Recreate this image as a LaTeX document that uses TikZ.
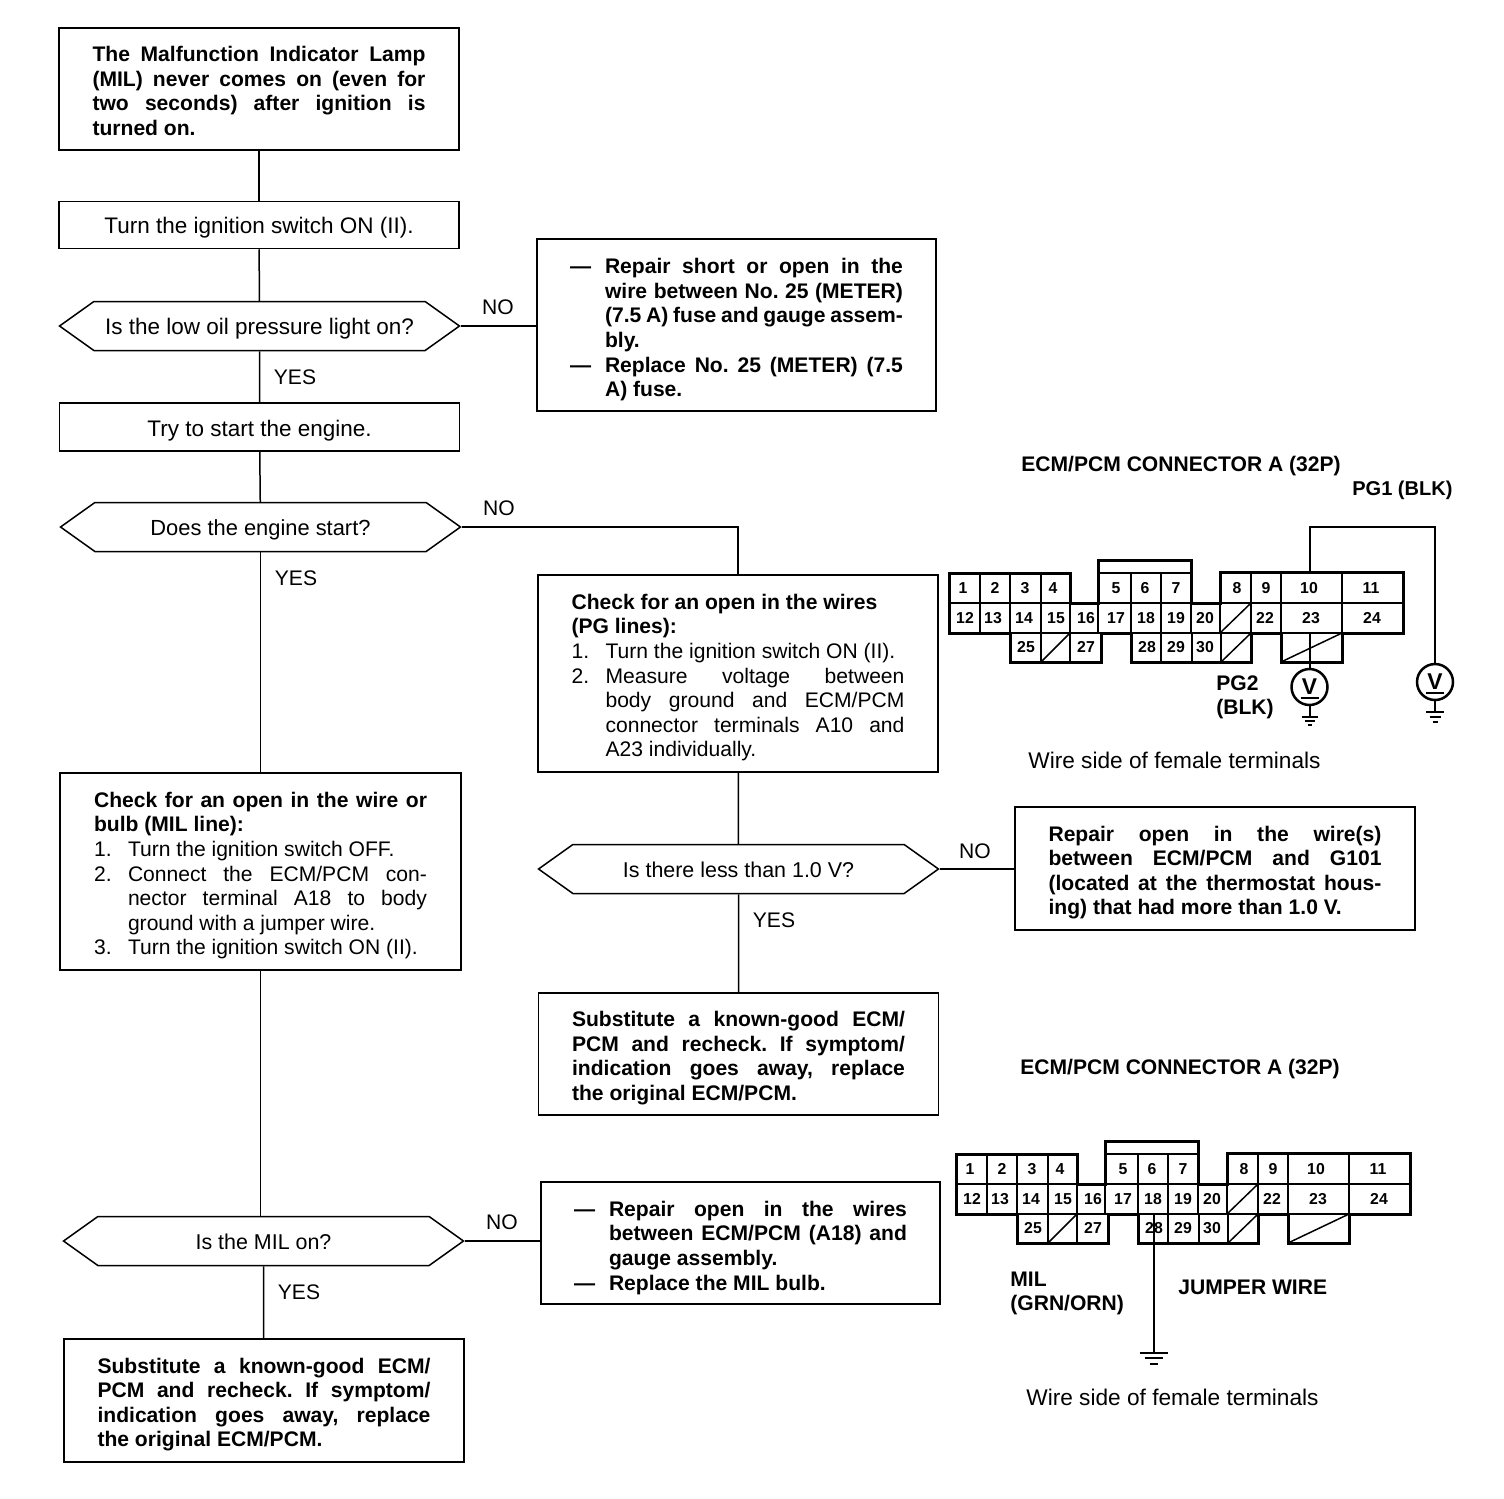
\documentclass[tikz,border=0pt]{standalone}
\usepackage{fontspec}
\setmainfont{Liberation Sans}
\usetikzlibrary{shapes, arrows, positioning, calc, shapes.symbols}
\tikzset{
  flowbox/.style={draw, line width=0.03cm, inner sep=0pt, minimum width=8cm, font=\fontsize{12}{14}\selectfont},
  linebox/.style={flowbox, font=\fontsize{12.8}{14}\selectfont, text height=0.42cm, text depth=0.08cm},
  notebox/.style={flowbox, align=justify, text width=6.66cm},
  boldbox/.style={notebox, font=\fontsize{12}{14}\selectfont\bfseries},
  textdrop/.style={execute at begin node={\rule{0pt}{#1}}},
  querybox/.style={linebox, shape=signal, signal to=east and west, signal pointer angle=71, minimum height=0.98cm},
  answer/.style={font=\fontsize{12}{14}\selectfont, inner sep=0pt},
  sidenote/.style={font=\fontsize{12.9}{14}\selectfont, inner sep=0pt, anchor=west},
  label/.style={font=\fontsize{12}{14}\selectfont\bfseries, inner sep=0pt, anchor=west},
  pinno/.style={font=\fontsize{9}{10}\selectfont\bfseries, inner sep=0pt},
  meter/.style={draw, circle, line width=0.05cm, minimum size=0.72cm, inner sep=0pt, font=\fontsize{13}{14}\selectfont\bfseries},
  wire/.style={line width=0.04cm},
  flow/.style={line width=0.03cm}
}
\newcommand{\dashitem}{\par\hangindent=0.7cm\hangafter=1\noindent\makebox[0.7cm][l]{---}}
\newcommand{\numitem}[1]{\par\hangindent=0.68cm\hangafter=1\noindent\makebox[0.68cm][l]{#1.}}
% connector body: prefix, dx, dy
\newcommand{\ecmconnector}[3]{
  \begin{scope}[shift={(#2,#3)}]
    \draw[line width=0.06cm, line join=miter] (949,573) -- (1070,573) -- (1070,603) -- (1098,603) -- (1098,560) -- (1191,560) -- (1191,603) -- (1220,603) -- (1220,572) -- (1403,572) -- (1403,633) -- (1342,633) -- (1342,662) -- (1281,662) -- (1281,633) -- (1251,633) -- (1251,662) -- (1131,662) -- (1131,633) -- (1101,633) -- (1101,662) -- (1010,662) -- (1010,633) -- (949,633) -- cycle;
    \draw[line width=0.05cm] (1098,573) -- (1191,573);
    \draw[line width=0.045cm] (949,603) -- (1403,603);
    \draw[line width=0.045cm] (1010,633) -- (1403,633);
    % cell walls
    \foreach \x in {980,1010,1041,1070}
      \draw[line width=0.035cm] (\x,573) -- (\x,633);
    \foreach \x in {1131,1161}
      \draw[line width=0.035cm] (\x,573) -- (\x,662);
    \foreach \x in {1251,1281,1342}
      \draw[line width=0.035cm] (\x,572) -- (\x,633);
    \foreach \x in {1041,1070,1192,1221}
      \draw[line width=0.03cm] (\x,633) -- (\x,662);
    \draw[line width=0.035cm] (1098,603) -- (1098,633);
    \draw[line width=0.035cm] (1191,603) -- (1191,633);
    \draw[line width=0.035cm] (1220,603) -- (1220,633);
    % blanked cavities
    \draw[line width=0.03cm] (1220,633) -- (1251,603);
    \draw[line width=0.03cm] (1041,662) -- (1070,633);
    \draw[line width=0.03cm] (1221,662) -- (1251,633);
    \draw[line width=0.03cm] (1281,662) -- (1342,633);
    % pin numbers
    \foreach \n/\x/\y in {1/963/588, 2/995/588, 3/1025/588, 4/1053/588, 5/1116/588, 6/1145/588, 7/1176/588, 8/1237/588, 9/1266/588, 10/1309/588, 11/1371/588,
      12/965/618, 13/993/618, 14/1024/618, 15/1056/618, 16/1086/618, 17/1116/618, 18/1146/618, 19/1176/618, 20/1205/618, 22/1265/618, 23/1311/618, 24/1372/618,
      25/1026/647, 27/1086/647, 28/1147/647, 29/1176/647, 30/1205/647}
      \node[pinno] (#1\n) at (\x,\y) {\n};
  \end{scope}
}

\begin{document}
\frenchspacing
\begin{tikzpicture}[x=0.02cm, y=-0.02cm]
  \useasboundingbox (0,0) rectangle (1504,1498);

  % --- Left column ---
  \node[boldbox, textdrop=0.39cm, minimum height=2.44cm] (lamp) at (259,89) {The Malfunction Indicator Lamp\linebreak (MIL) never comes on (even for\linebreak two seconds) after ignition is\linebreak turned on.};
  \node[linebox, minimum height=0.94cm] (ignon) at (259,225) {Turn the ignition switch ON (II).};
  \node[querybox] (oilq) at (259.5,326) {Is the low oil pressure light on?};
  \node[linebox, text height=0.46cm, minimum height=0.96cm] (crank) at (259.5,427) {Try to start the engine.};
  \node[querybox, font=\fontsize{12.45}{14}\selectfont] (startq) at (260.5,527) {Does the engine start?};
  \node[notebox, textdrop=0.47cm, minimum width=8.02cm, minimum height=3.94cm] (milcheck) at (260.5,871.5) {\textbf{Check for an open in the wire or\linebreak bulb (MIL line):}
    \numitem{1}Turn the ignition switch OFF.
    \numitem{2}Connect the ECM/PCM con-\linebreak nector terminal A18 to body\linebreak ground with a jumper wire.
    \numitem{3}Turn the ignition switch ON (II).\par};
  \node[querybox, font=\fontsize{12.2}{14}\selectfont] (milq) at (263.5,1241) {Is the MIL on?};
  \node[boldbox, textdrop=0.47cm, minimum height=2.46cm] (subleft) at (264,1400.5) {Substitute a known-good ECM/\linebreak PCM and recheck. If symptom/\linebreak indication goes away, replace\linebreak the original ECM/PCM.};

  % --- Middle column ---
  \node[boldbox, minimum width=7.98cm, minimum height=3.44cm] (fuse) at (736.5,325) {\dashitem Repair short or open in the\linebreak wire between No. 25 (METER)\linebreak (7.5 A) fuse and gauge assem-\linebreak bly.
    \dashitem Replace No. 25 (METER) (7.5\linebreak A) fuse.\par};
  \node[notebox, textdrop=0.47cm, minimum width=8cm, minimum height=3.94cm] (pgcheck) at (738,673.5) {\textbf{Check for an open in the wires\newline (PG lines):}
    \numitem{1}Turn the ignition switch ON (II).
    \numitem{2}Measure voltage between\linebreak body ground and ECM/PCM\linebreak connector terminals A10 and\linebreak A23 individually.\par};
  \node[querybox, font=\fontsize{12.2}{14}\selectfont] (voltq) at (738.5,869) {Is there less than 1.0 V?};
  \node[boldbox, textdrop=0.47cm, minimum height=2.44cm] (subright) at (738.5,1054) {Substitute a known-good ECM/\linebreak PCM and recheck. If symptom/\linebreak indication goes away, replace\linebreak the original ECM/PCM.};
  \node[boldbox, minimum width=7.98cm, minimum height=2.44cm] (bulb) at (740.5,1243) {\dashitem Repair open in the wires\linebreak between ECM/PCM (A18) and\linebreak gauge assembly.
    \dashitem Replace the MIL bulb.\par};
  \node[boldbox, textdrop=0.47cm, minimum height=2.46cm] (g101) at (1215,868.5) {Repair open in the wire(s)\linebreak between ECM/PCM and G101\linebreak (located at the thermostat hous-\linebreak ing) that had more than 1.0 V.};

  % --- Flow lines ---
  \draw[flow] (lamp) -- (ignon);
  \draw[flow] (ignon) -- (oilq);
  \draw[flow] (oilq) -- (crank);
  \draw[flow] (crank) -- (startq);
  \draw[flow] (startq.south) -- (startq.south |- milcheck.north);
  \draw[flow] (milcheck.south) -- (milcheck.south |- milq.north);
  \draw[flow] (milq) -- (milq |- subleft.north);
  \draw[flow] (oilq.east) -- (oilq.east -| fuse.west);
  \draw[flow] (startq.east) -| (pgcheck.north);
  \draw[flow] (pgcheck) -- (voltq);
  \draw[flow] (voltq) -- (subright);
  \draw[flow] (voltq.east) -- (voltq.east -| g101.west);
  \draw[flow] (milq.east) -- (milq.east -| bulb.west);

  % --- Answers ---
  \node[answer] (yesa) at (295,377) {YES};
  \node[answer] (yesb) at (296,578) {YES};
  \node[answer] (yesc) at (774,920) {YES};
  \node[answer] (yesd) at (299,1292) {YES};
  \node[answer] (noa) at (498,307) {NO};
  \node[answer] (nob) at (499,508) {NO};
  \node[answer] (noc) at (975,851) {NO};
  \node[answer] (nod) at (502,1222) {NO};

  % --- Upper connector ---
  \node[label] (titlea) at (1021,466) {ECM/PCM CONNECTOR A (32P)};
  \node[label, font=\fontsize{11.4}{14}\selectfont\bfseries] (pgone) at (1352,490.5) {PG1 (BLK)};
  \ecmconnector{ua}{0}{0}
  \node[label, align=left] (pgtwo) at (1216,697.5) {PG2\\(BLK)};
  \node[sidenote] (sidea) at (1028,760) {Wire side of female terminals};
  \node[meter] (vleft) at (1309.5,687) {V};
  \node[meter] (vright) at (1435,682) {V};
  \draw[line width=0.04cm] ($(vleft)+(-9,11)$) -- ($(vleft)+(9,11)$);
  \draw[line width=0.04cm] ($(vright)+(-9,11)$) -- ($(vright)+(9,11)$);
  \coordinate (topleft) at (1309.5,527);
  \coordinate (topright) at (1435,527);
  \coordinate (tendesk) at (1309.5,572);
  \coordinate (twthree) at (1309.5,633);
  \coordinate (gndleft) at (1309.5,717);
  \coordinate (gndright) at (1435,712);
  \draw[wire] (tendesk) -- (topleft) -- (topright) -- (vright);
  \draw[wire] (twthree) -- (vleft);
  \draw[wire] (vleft) -- (gndleft);
  \draw[wire] (vright) -- (gndright);
  \draw[wire] ($(gndleft)+(-8,0)$) -- ($(gndleft)+(8,0)$);
  \draw[wire] ($(gndleft)+(-5,4)$) -- ($(gndleft)+(5,4)$);
  \draw[wire] ($(gndleft)+(-2,8)$) -- ($(gndleft)+(2,8)$);
  \draw[wire] ($(gndright)+(-9,0)$) -- ($(gndright)+(9,0)$);
  \draw[wire] ($(gndright)+(-5.5,5)$) -- ($(gndright)+(5.5,5)$);
  \draw[wire] ($(gndright)+(-2.5,10)$) -- ($(gndright)+(2.5,10)$);

  % --- Lower connector ---
  \node[label] (titleb) at (1020,1069) {ECM/PCM CONNECTOR A (32P)};
  \ecmconnector{la}{7}{581}
  \node[label, align=left] (mil) at (1010,1293.5) {MIL\\(GRN/ORN)};
  \node[label] (jumper) at (1178,1287) {JUMPER WIRE};
  \node[sidenote] (sideb) at (1026,1397) {Wire side of female terminals};
  \coordinate (pinjump) at (1153.5,1213);
  \coordinate (gndjump) at (1153.5,1353);
  \draw[wire] (pinjump) -- (gndjump);
  \draw[wire] ($(gndjump)+(-14,0)$) -- ($(gndjump)+(14,0)$);
  \draw[wire] ($(gndjump)+(-9,5)$) -- ($(gndjump)+(9,5)$);
  \draw[wire] ($(gndjump)+(-4,11)$) -- ($(gndjump)+(4,11)$);
\end{tikzpicture}
\end{document}
